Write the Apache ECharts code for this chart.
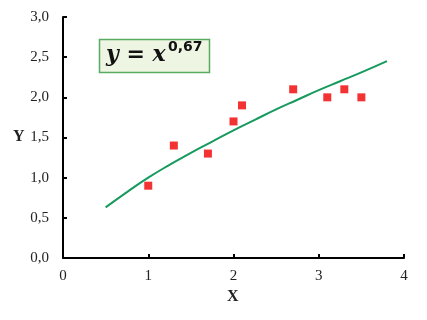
<!DOCTYPE html>
<html><head><meta charset="utf-8">
<script src="https://cdn.jsdelivr.net/npm/echarts@6/dist/echarts.min.js"></script>
<style>html,body{margin:0;padding:0;background:#fff}#c{width:427px;height:320px}</style>
</head><body><div id="c"></div>
<script>
const pointsX = [1.0, 1.3, 1.7, 2.0, 2.1, 2.7, 3.1, 3.3, 3.5];
const pointsY = [0.9, 1.4, 1.3, 1.7, 1.9, 2.1, 2.0, 2.1, 2.0];
const curveX = [0.5, 0.75, 1.0, 1.25, 1.5, 1.75, 2.0, 2.25, 2.5, 2.75, 3.0, 3.25, 3.5, 3.8];
const curveY = [0.63, 0.82, 1.0, 1.16, 1.31, 1.45, 1.59, 1.72, 1.85, 1.97, 2.09, 2.20, 2.31, 2.45];
const yTickLabels = ['0,0','0,5','1,0','1,5','2,0','2,5','3,0'];
const xTickLabels = ['0','1','2','3','4'];
const equationText = 'y = x';
const exponentText = '0,67';

const chart = echarts.init(document.getElementById('c'), null, {renderer:'canvas'});
const serif = '"Liberation Serif", "DejaVu Serif", serif';
const axisLine = {show:true, lineStyle:{color:'#000', width:2}};
chart.setOption({
  animation:false,
  backgroundColor:'#fff',
  grid:{left:63, right:23, top:17, bottom:62},
  xAxis:{type:'value', min:0, max:4, interval:1,
    axisLine:axisLine, axisTick:{show:true, inside:true, length:4, lineStyle:{color:'#000', width:2}},
    splitLine:{show:false},
    axisLabel:{fontFamily:serif, fontSize:15, color:'#222', margin:11,
      formatter:v=>xTickLabels[Math.round(v)]}},
  yAxis:{type:'value', min:0, max:3, interval:0.5,
    axisLine:axisLine, axisTick:{show:true, inside:true, length:4, lineStyle:{color:'#000', width:2}},
    splitLine:{show:false},
    axisLabel:{fontFamily:serif, fontSize:15, color:'#222', margin:14,
      formatter:v=>yTickLabels[Math.round(v*2)]}},
  series:[
    {type:'line', data:curveX.map((x,i)=>[x,curveY[i]]), smooth:true, showSymbol:false,
     lineStyle:{color:'#179a5e', width:2}, z:2},
    {type:'scatter', data:pointsX.map((x,i)=>[x,pointsY[i]]), symbol:'rect', symbolSize:8,
     itemStyle:{color:'#f00000'}, z:3}
  ],
  graphic:[
    {type:'text', left:13, top:129, style:{text:'Y', font:'bold 16px '+serif, fill:'#222'}},
    {type:'text', left:227, top:289, style:{text:'X', font:'bold 16px '+serif, fill:'#222'}},
    {type:'rect', shape:{x:99.5, y:39.5, width:110, height:33},
     style:{fill:'#eef5e2', stroke:'#5aab62', lineWidth:1.5}},
    {type:'text', x:106, y:44, style:{text:equationText, font:'bold italic 22px "DejaVu Serif", serif', fill:'#111'}},
    {type:'text', x:168, y:40, style:{text:exponentText, font:'bold 14px "DejaVu Sans", sans-serif', fill:'#111'}}
  ]
});
</script></body></html>
